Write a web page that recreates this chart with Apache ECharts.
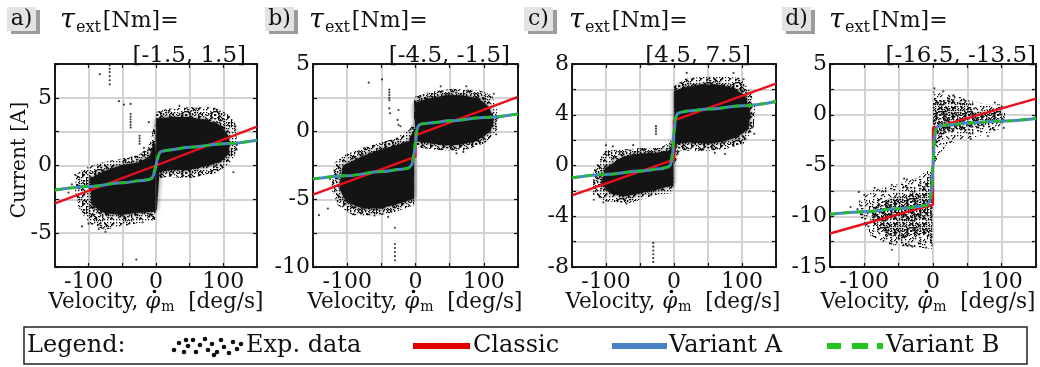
<!DOCTYPE html>
<html><head><meta charset="utf-8">
<script src="https://cdn.jsdelivr.net/npm/echarts@6/dist/echarts.min.js"></script>
<style>html,body{margin:0;padding:0;background:#fff}#c{width:1040px;height:367px}</style>
</head><body><div id="c"></div>
<script>
// ---------- labels / axes ----------
const panelLetters = ['a)', 'b)', 'c)', 'd)'];
const torqueRanges = ['[-1.5, 1.5]', '[-4.5, -1.5]', '[4.5, 7.5]', '[-16.5, -13.5]'];
const xLabelVals = [-100, 0, 100];
const yMins = [-7.5, -10, -8, -15];
const yMaxs = [7.5, 5, 8, 5];
const ySteps = [2.5, 2.5, 2, 2.5];
const yLabelVals = [[-5, 0, 5], [-10, -5, 0, 5], [-8, -4, 0, 4, 8], [-15, -10, -5, 0, 5]];

// ---------- panel a) ----------
const aFringeLeft = [[-118,-0.6],[-100.7,-0.1],[-76,0.27],[-51.5,0.5],[-26.8,0.76],[-12,1.25],[-4.7,2.6],[-0.7,3.1],[-0.7,-4.0],[-26.8,-4.26],[-51.5,-4.5],[-76,-4.75],[-100.7,-4.26],[-115.5,-3.04],[-120.4,-1.81]];
const aCoreLeft = [[-98,-0.96],[-76,-0.39],[-51.5,0.02],[-26.8,0.22],[-9.6,0.64],[-3.2,1.62],[-0.7,1.62],[-0.7,-3.41],[-26.8,-3.48],[-51.5,-3.65],[-76,-3.53],[-95.8,-2.92]];
const aFringeRight = [[0.25,3.95],[17.5,4.2],[47,4.3],[86.5,4.3],[106,3.82],[118.5,3.1],[121,1.13],[111,0.15],[86.5,-0.59],[47,-0.96],[17.5,-0.83],[2.7,-0.96]];
const aCoreRight = [[0.25,3.46],[22.4,3.58],[47,3.58],[71.7,3.38],[96.3,2.97],[108.6,2.1],[108.6,0.88],[96.3,0.27],[71.7,-0.1],[47,-0.34],[22.4,-0.34],[5.2,-0.47],[1.2,-3.28],[0.25,-3.28]];
const aOutliers = [[-68.7,7.4],[-68.7,7.15],[-68.7,6.9],[-68.7,6.6],[-68.7,6.3],[-68.7,6.0],[-83.5,6.75],[-55,4.75],[-47.5,4.5],[-37.7,4.55],[-37.7,3.8],[-37.7,3.6],[-37.7,3.4],[-37.7,3.2],[-37.7,3.0],[-37.7,2.8],[-24.4,2.2],[-24.4,2.0],[-24.4,1.8],[-24.4,1.6],[-18,1.3],[-18,1.0],[-18,0.7],[-10.6,3.2],[-29.3,-6.95],[34.7,4.4],[20,4.0],[60,4.2],[90,4.1],[118,2.9],[120,1.5],[115,-0.5],[-120,-0.7],[-125,-1.4],[-110,-4.5],[-100,-4.3],[-85,-4.7],[-75,-4.9],[-130,-2.0],[-20,-4.2]];
const aClassic = [[-150,-2.8],[0,0],[150,2.87]];
const aVariantA = [[-150,-1.82],[-100,-1.55],[-50,-1.28],[-20,-1.1],[-10,-1.03],[-6,-0.95],[-4,-0.75],[-2,-0.4],[0,0],[2,0.45],[4,0.8],[6,0.98],[10,1.08],[20,1.15],[50,1.35],[100,1.6],[150,1.86]];
const aVariantB = [[-150,-1.82],[-100,-1.55],[-50,-1.28],[-20,-1.1],[-10,-1.03],[-6,-0.93],[-4,-0.7],[-2,-0.3],[0,0.1],[2,0.5],[4,0.82],[6,0.98],[10,1.08],[20,1.15],[50,1.35],[100,1.6],[150,1.86]];

// ---------- panel b) ----------
const bFringeLeft = [[-118.4,-2.28],[-101.5,-1.67],[-77.2,-1.19],[-52.9,-0.83],[-28.6,-0.46],[-9.2,0.15],[-2,0.63],[-2,-5.44],[-28.6,-5.92],[-52.9,-6.17],[-91.7,-6.17],[-113.6,-5.44],[-123.3,-4.22]];
const bCoreLeft = [[-106.3,-2.52],[-77.2,-1.8],[-52.9,-1.36],[-28.6,-1.02],[-9.2,-0.7],[-4.4,0.02],[-2,0.02],[-2,-4.95],[-23.8,-5.3],[-52.9,-5.68],[-77.2,-5.68],[-101.5,-5.19],[-111.2,-4.22]];
const bFringeRight = [[-2,2.57],[19.9,2.94],[53.9,3.18],[92.7,3.06],[112.1,2.69],[119.4,1.6],[119.4,0.15],[102.4,-0.83],[68.4,-1.43],[34.5,-1.36],[5.3,-1.19],[-2,-0.95]];
const bCoreRight = [[-2,2.14],[19.9,2.45],[44.2,2.69],[68.4,2.69],[92.7,2.45],[107.3,1.84],[114.6,0.87],[109.7,0.02],[92.7,-0.58],[68.4,-0.95],[44.2,-1.02],[19.9,-0.83],[0.5,-0.7]];
const bOutliers = [[-68.4,3.62],[-49,3.86],[-38.3,3.1],[-38.3,2.9],[-38.3,2.7],[-38.3,2.5],[-38.3,2.33],[-38.3,1.72],[-37.4,1.36],[-24.8,1.6],[-26.2,0.87],[-24.8,0.5],[-22,0.4],[-30.1,-7.1],[-30.1,-8.3],[-30.1,-8.6],[-30.1,-8.9],[-30.1,-9.2],[-30.1,-9.5],[-141.3,-6.17],[-128.2,-5.68],[36.9,3.35],[74.3,3.35],[114.6,2.8],[120,1.0],[118,-0.2],[60,-1.6],[70,-1.5],[-125,-3.5],[-60,-6.2],[-40,-6.3]];
const bClassic = [[-150,-4.66],[0,-1.85],[0,-0.28],[150,2.57]];
const bVariantA = [[-150,-3.5],[-100,-3.25],[-50,-2.95],[-20,-2.78],[-10,-2.68],[-6,-2.5],[-4,-2.2],[-2,-1.6],[0,-0.9],[2,0.1],[4,0.42],[6,0.52],[10,0.58],[20,0.64],[50,0.8],[100,1.05],[150,1.31]];
const bVariantB = [[-150,-3.5],[-100,-3.25],[-50,-2.95],[-20,-2.78],[-10,-2.68],[-6,-2.48],[-4,-2.1],[-2,-1.4],[0,-0.7],[2,0.15],[4,0.44],[6,0.52],[10,0.58],[20,0.64],[50,0.8],[100,1.05],[150,1.31]];

// ---------- panel c) ----------
const cFringeLeft = [[-119,-0.49],[-101.8,1.19],[-74.7,1.27],[-50.1,1.38],[-20.6,1.38],[-5.9,1.84],[-1,2.36],[-1,-2.18],[-25.6,-2.31],[-64.9,-2.96],[-99.3,-2.83],[-119,-2.31]];
const cCoreLeft = [[-101.8,-0.23],[-74.7,0.68],[-50.1,0.94],[-25.6,1.01],[-5.9,1.19],[-2.5,1.97],[-1,1.97],[-1,-1.53],[-25.6,-1.92],[-50.1,-2.18],[-74.7,-2.44],[-94.4,-2.18],[-106.7,-1.4]];
const cFringeRight = [[0,6.26],[18.7,6.9],[58,7.04],[97.3,6.91],[112.1,5.87],[119.5,4.7],[117,2.88],[102.3,1.71],[72.8,1.27],[38.3,1.12],[8.8,1.19],[0.5,0.03]];
const cCoreRight = [[0.5,5.87],[13.8,6.13],[38.3,6.39],[62.9,6.39],[87.5,6.13],[104.7,5.48],[112.1,4.18],[109.6,2.88],[92.4,2.23],[72.8,1.9],[48.2,1.71],[23.6,1.84],[3.9,1.71],[0.5,0.29]];
const cOutliers = [[-26.5,3.1],[-26.5,2.9],[-26.5,2.7],[-26.5,2.5],[-30.5,-6.1],[-30.5,-6.4],[-30.5,-6.7],[-30.5,-7.0],[-30.5,-7.3],[-30.5,-7.6],[18.7,7.3],[87.5,7.3],[102.3,6.8],[-118,-2.7],[-104,-2.9],[-70,-3.0],[115,3.0],[118,2.5],[60,1.0],[75,0.9],[-100,1.6],[-90,1.5],[-60,1.6]];
const cClassic = [[-150,-2.35],[0,0.47],[0,3.55],[150,6.45]];
const cVariantA = [[-150,-0.97],[-100,-0.7],[-50,-0.44],[-20,-0.26],[-10,-0.13],[-6,-0.02],[-4,0.2],[-2,1.0],[0,2.5],[2,3.6],[4,4.0],[6,4.12],[10,4.2],[20,4.3],[50,4.45],[100,4.7],[150,5.05]];
const cVariantB = [[-150,-0.97],[-100,-0.7],[-50,-0.44],[-20,-0.26],[-10,-0.13],[-6,0.0],[-4,0.3],[-2,1.2],[0,2.7],[2,3.7],[4,4.02],[6,4.12],[10,4.2],[20,4.3],[50,4.45],[100,4.7],[150,5.05]];

// ---------- panel d) ----------
const dFringeLeft = [[-108.3,-8.51],[-86.4,-7.38],[-62.1,-7.06],[-33,-6.41],[-23.3,-6.25],[-3.9,-5.28],[-1,-5.28],[-1,-13.2],[-33,-13.04],[-62.1,-12.88],[-91.3,-11.91],[-105.8,-10.13]];
const dCoreLeft = [[-81.6,-8.83],[-62.1,-8.19],[-37.9,-7.86],[-18.4,-7.38],[-7.8,-6.57],[-3.9,-5.6],[-1,-5.6],[-1,-12.88],[-8.7,-11.75],[-28.2,-11.75],[-47.6,-12.39],[-67,-11.75],[-86.4,-10.78],[-91.3,-9.64]];
const dFringeRight = [[1,2.33],[15.5,2.01],[35,1.84],[54.4,1.36],[78.6,1.04],[98,1.04],[105.3,0.23],[102.9,-1.23],[78.6,-1.88],[44.7,-2.52],[20.4,-2.85],[3.4,-4.63],[-1,-5.28]];
const dCoreRight = [[0,1.2],[10.7,1.36],[30.1,1.52],[49.5,1.04],[59.2,0.23],[78.6,0.55],[98,0.71],[100.5,-0.26],[83.5,-0.91],[59.2,-1.23],[35,-1.55],[15.5,-1.88],[3.4,-2.69],[0,-3.01]];
const dOutliers = [[-108,-7.6],[-110,-9.3],[-100,-7.9],[-85,-7.2],[-60,-6.9],[-42,-6.3],[-38,-6.4],[-35,-12.8],[-60,-13.3],[-30,-13.0],[-10,-13.1],[2,2.6],[15,2.3],[30,1.9],[60,0.6],[90,1.2],[100,0.8],[103,-1.3],[80,-2.1],[55,-2.4],[25,-2.7],[-94,-11.0],[-120,-9.1]];
const dClassic = [[-150,-11.7],[0,-8.85],[0,-1.3],[150,1.58]];
const dVariantA = [[-150,-9.8],[-100,-9.55],[-50,-9.26],[-20,-9.05],[-10,-8.9],[-6,-8.7],[-4,-8.3],[-2,-7.5],[0,-5.0],[2,-2.3],[4,-1.45],[6,-1.25],[10,-1.1],[20,-1.0],[50,-0.82],[100,-0.62],[150,-0.36]];
const dVariantB = [[-150,-9.8],[-100,-9.55],[-50,-9.26],[-20,-9.05],[-10,-8.9],[-6,-8.68],[-4,-8.2],[-2,-7.2],[0,-4.6],[2,-2.1],[4,-1.4],[6,-1.25],[10,-1.1],[20,-1.0],[50,-0.82],[100,-0.62],[150,-0.36]];

// ---------- assembling ----------
const panels = [
  {fl:aFringeLeft, cl:aCoreLeft, fr:aFringeRight, cr:aCoreRight, out:aOutliers, cls:aClassic, va:aVariantA, vb:aVariantB},
  {fl:bFringeLeft, cl:bCoreLeft, fr:bFringeRight, cr:bCoreRight, out:bOutliers, cls:bClassic, va:bVariantA, vb:bVariantB},
  {fl:cFringeLeft, cl:cCoreLeft, fr:cFringeRight, cr:cCoreRight, out:cOutliers, cls:cClassic, va:cVariantA, vb:cVariantB},
  {fl:dFringeLeft, cl:dCoreLeft, fr:dFringeRight, cr:dCoreRight, out:dOutliers, cls:dClassic, va:dVariantA, vb:dVariantB}
];
const FONT = '"DejaVu Serif", "Liberation Serif", serif';
const FONT_CSS = '"DejaVu Serif"';
const gridLeft = [55, 313, 572, 830];
const gridWidth = [202, 205, 204, 206];
const gridTop = 64, gridHeight = 203;
const titleX = [60, 309, 569, 829];
const rangeRight = [246, 510, 751, 1036];
const xTitleCenter = [156, 415, 673, 928];

// speckle texture (deterministic hash pattern) used to render the dense scatter clouds
function makeTexture(threshold) {
  const size = 29;
  const cv = document.createElement('canvas');
  cv.width = cv.height = size;
  const ctx = cv.getContext('2d');
  ctx.fillStyle = '#111';
  for (let x = 0; x < size; x++) for (let y = 0; y < size; y++) {
    if (((x * 73 + y * 151 + x * y * 29 + (x ^ y) * 13) % 97) < threshold) ctx.fillRect(x, y, 1.3, 1.3);
  }
  return {image: cv, repeat: 'repeat'};
}
const fringeFill = [makeTexture(30), makeTexture(30), makeTexture(30), makeTexture(14)];
const coreFill = ['#141414', '#141414', '#141414', makeTexture(40)];
const coreBlur = [5, 5, 5, 0];

const mctx = document.createElement('canvas').getContext('2d');
function textWidth(font, s) { mctx.font = font; return mctx.measureText(s).width; }

const grids = [], xAxes = [], yAxes = [], series = [], graphics = [];
const tickStyle = {show: true, inside: true, length: 4, lineStyle: {color: '#111', width: 1.2}};
const lineStyleAxis = {show: true, onZero: false, lineStyle: {color: '#1a1a1a', width: 2}};

function polySeries(gi, polys, fill, blur, z) {
  return {
    type: 'custom', xAxisIndex: gi * 2, yAxisIndex: gi * 2, silent: true, z: z, clip: true,
    data: polys.map(p => p[0]),
    renderItem: (params, api) => ({
      type: 'polygon',
      shape: {points: polys[params.dataIndex].map(p => api.coord(p))},
      style: {fill: fill, shadowBlur: blur, shadowColor: 'rgba(0,0,0,0.75)'}
    })
  };
}
function txt(x, y, text, size, opts) {
  return Object.assign({type: 'text', x: x, y: y, z: 12,
    style: Object.assign({text: text, fontFamily: FONT, fontSize: size, fill: '#111', verticalAlign: 'middle', textVerticalAlign: 'middle'}, opts || {})});
}

panels.forEach((p, i) => {
  grids.push({left: gridLeft[i], top: gridTop, width: gridWidth[i], height: gridHeight, show: false, containLabel: false});
  xAxes.push({
    gridIndex: i, type: 'value', min: -150, max: 150, interval: 50, position: 'bottom',
    axisLine: lineStyleAxis, axisTick: tickStyle,
    splitLine: {show: true, lineStyle: {color: '#d3d3d3', width: 2}},
    axisLabel: {margin: 4, color: '#111', fontFamily: FONT, fontSize: 22,
      formatter: v => xLabelVals.includes(v) ? String(v) : ''}
  });
  xAxes.push({
    gridIndex: i, type: 'value', min: -150, max: 150, interval: 50, position: 'top',
    axisLine: lineStyleAxis, axisTick: tickStyle, splitLine: {show: false}, axisLabel: {show: false}
  });
  yAxes.push({
    gridIndex: i, type: 'value', min: yMins[i], max: yMaxs[i], interval: ySteps[i], position: 'left',
    axisLine: lineStyleAxis, axisTick: tickStyle,
    splitLine: {show: true, lineStyle: {color: '#d3d3d3', width: 2}},
    axisLabel: {margin: 3, color: '#111', fontFamily: FONT, fontSize: 22,
      formatter: v => yLabelVals[i].includes(v) ? String(v) : ''}
  });
  yAxes.push({
    gridIndex: i, type: 'value', min: yMins[i], max: yMaxs[i], interval: ySteps[i], position: 'right',
    axisLine: lineStyleAxis, axisTick: tickStyle, splitLine: {show: false}, axisLabel: {show: false}
  });

  series.push(polySeries(i, [p.fl, p.fr], fringeFill[i], 0, 1));
  series.push(polySeries(i, [p.cl, p.cr], coreFill[i], coreBlur[i], 2));
  series.push({name: 'Exp. data', type: 'scatter', xAxisIndex: i * 2, yAxisIndex: i * 2, data: p.out,
    symbolSize: 2.2, itemStyle: {color: '#111'}, silent: true, z: 3});
  series.push({name: 'Classic', type: 'line', xAxisIndex: i * 2, yAxisIndex: i * 2, data: p.cls,
    showSymbol: false, symbol: 'none', lineStyle: {color: '#e8101a', width: 2.4}, silent: true, z: 4});
  series.push({name: 'Variant A', type: 'line', xAxisIndex: i * 2, yAxisIndex: i * 2, data: p.va,
    smooth: 0.35, smoothMonotone: 'x', symbol: 'none', lineStyle: {color: '#4a86c8', width: 3}, silent: true, z: 5});
  series.push({name: 'Variant B', type: 'line', xAxisIndex: i * 2, yAxisIndex: i * 2, data: p.vb,
    smooth: 0.35, smoothMonotone: 'x', symbol: 'none', lineStyle: {color: '#1fbf1f', width: 2.6, type: [7, 6]}, silent: true, z: 6});

  // panel letter box
  const bx = gridLeft[i] - 48;
  graphics.push({type: 'rect', shape: {x: bx + 4, y: 10, width: 29, height: 24}, style: {fill: '#9c9c9c'}, z: 10});
  graphics.push({type: 'rect', shape: {x: bx, y: 7, width: 29, height: 24}, style: {fill: '#e3e3e3'}, z: 11});
  graphics.push(txt(bx + 14.5, 19, panelLetters[i], 22, {align: 'center', textAlign: 'center'}));
  // tau title
  graphics.push({type: 'text', x: titleX[i], y: 21, z: 12,
    style: {text: '{t|τ}{s|ext}{n|[Nm]=}', fill: '#111', verticalAlign: 'middle', textVerticalAlign: 'middle',
      rich: {
        t: {fontFamily: FONT, fontStyle: 'italic', fontSize: 27, lineHeight: 30, fill: '#111'},
        s: {fontFamily: FONT, fontSize: 16, lineHeight: 30, padding: [13, 2, 0, 1], fill: '#111'},
        n: {fontFamily: FONT, fontSize: 22, lineHeight: 30, fill: '#111'}
      }}});
  graphics.push(txt(rangeRight[i], 56, torqueRanges[i], 23, {align: 'right', textAlign: 'right'}));

  // x-axis title: "Velocity, φ̇m  [deg/s]" built from measured pieces
  const fs = 21.5;
  const w1 = textWidth(fs + 'px ' + FONT_CSS, 'Velocity, ');
  const w2 = textWidth('italic ' + fs + 'px ' + FONT_CSS, 'φ');
  const w3 = textWidth('14px ' + FONT_CSS, 'm');
  const w4 = textWidth(fs + 'px ' + FONT_CSS, '  [deg/s]');
  const total = w1 + w2 + 1 + w3 + w4;
  const x0 = xTitleCenter[i] - total / 2;
  const yT = 302;
  graphics.push(txt(x0, yT, 'Velocity, ', fs, {align: 'left', textAlign: 'left'}));
  graphics.push(txt(x0 + w1, yT, 'φ', fs, {align: 'left', textAlign: 'left', fontStyle: 'italic'}));
  graphics.push({type: 'circle', shape: {cx: x0 + w1 + w2 * 0.62, cy: yT - 10.5, r: 1.8}, style: {fill: '#000'}, z: 20});
  graphics.push(txt(x0 + w1 + w2 + 1, yT + 5, 'm', 14, {align: 'left', textAlign: 'left'}));
  graphics.push(txt(x0 + w1 + w2 + 1 + w3, yT, '  [deg/s]', fs, {align: 'left', textAlign: 'left'}));
});

// y-axis title
graphics.push({type: 'text', x: 20, y: 160, rotation: Math.PI / 2, z: 12,
  style: {text: 'Current [A]', fontFamily: FONT, fontSize: 20, fill: '#111', align: 'center', verticalAlign: 'middle', textAlign: 'center', textVerticalAlign: 'middle'}});

// legend
const legendY = 346;
graphics.push({type: 'rect', shape: {x: 24, y: 327, width: 1003, height: 37}, style: {fill: 'none', stroke: '#222', lineWidth: 1.5}, z: 10});
const legendText = [['Legend:', 27], ['Exp. data', 246], ['Classic', 473], ['Variant A', 669], ['Variant B', 886]];
legendText.forEach(([t, x]) => graphics.push(txt(x, legendY, t, 24)));
const dotIcon = [[174,350],[179,343],[184,352],[188,346],[193,340],[196,352],[200,345],[205,339],[208,350],[212,344],[217,352],[221,340],[224,347],[229,353],[233,342],[237,349],[241,344],[186,340],[214,355]];
dotIcon.forEach(([x, y]) => graphics.push({type: 'circle', shape: {cx: x, cy: y, r: 2.3}, style: {fill: '#111'}, z: 12}));
graphics.push({type: 'rect', shape: {x: 413, y: 343, width: 57, height: 6}, style: {fill: '#e00000'}, z: 12});
graphics.push({type: 'rect', shape: {x: 612, y: 343, width: 55, height: 6}, style: {fill: '#4a80c4'}, z: 12});
[[827, 14], [852, 16], [877, 6]].forEach(([x, w]) => graphics.push({type: 'rect', shape: {x: x, y: 343, width: w, height: 6}, style: {fill: '#1fc41f'}, z: 12}));

const chart = echarts.init(document.getElementById('c'), null, {renderer: 'canvas'});
chart.setOption({
  animation: false,
  backgroundColor: '#fff',
  grid: grids, xAxis: xAxes, yAxis: yAxes, series: series, graphic: graphics
});
</script></body></html>
